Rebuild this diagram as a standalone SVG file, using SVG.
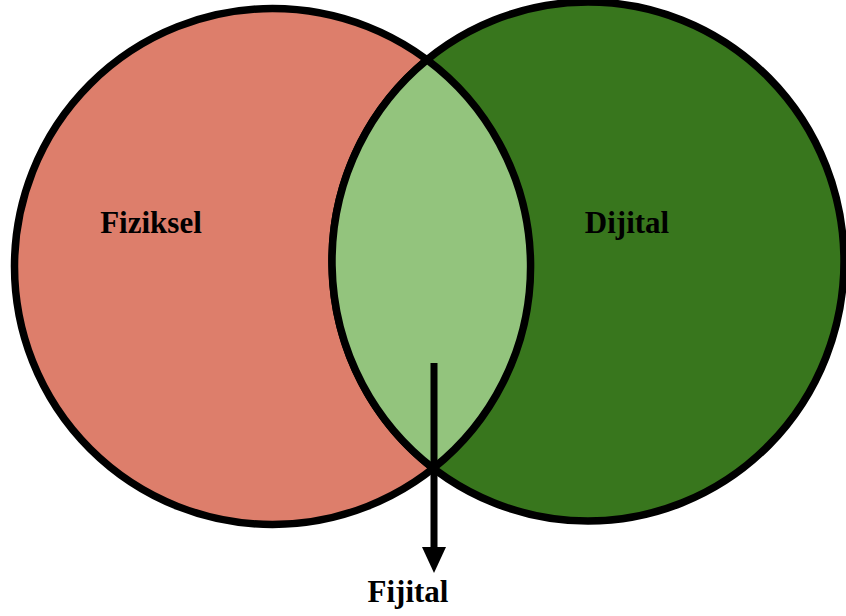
<svg xmlns="http://www.w3.org/2000/svg" width="846" height="616" viewBox="0 0 846 616">
<style>
.c{stroke:#000;stroke-width:7.5}
.t{font-family:"Liberation Serif","Times New Roman",serif;font-weight:bold;font-size:31px;fill:#000;text-anchor:middle}
</style>
<rect width="846" height="616" fill="#fff"/>
<g id="fiziksel">
<circle class="c" cx="272.5" cy="266.5" r="258" fill="#dd7e6b"/>
<text class="t" x="151" y="233">Fiziksel</text>
</g>
<g id="dijital">
<ellipse class="c" cx="588" cy="261.5" rx="256" ry="259.5" fill="#38761d"/>
<text class="t" x="627" y="233">Dijital</text>
</g>
<g id="fijital-lens">
<path class="c" fill="#93c47d" d="M427,59.8 A258,258 0 0 1 433.3,468.3 A256,259.5 0 0 1 427,59.8 Z"/>
</g>
<g id="connectors">
<line x1="434" y1="363" x2="434" y2="548" stroke="#000" stroke-width="7"/>
<path d="M422,547 L446,547 L434,573 Z" fill="#000"/>
</g>
<g id="fijital">
<text class="t" x="408" y="602">Fijital</text>
</g>
</svg>
